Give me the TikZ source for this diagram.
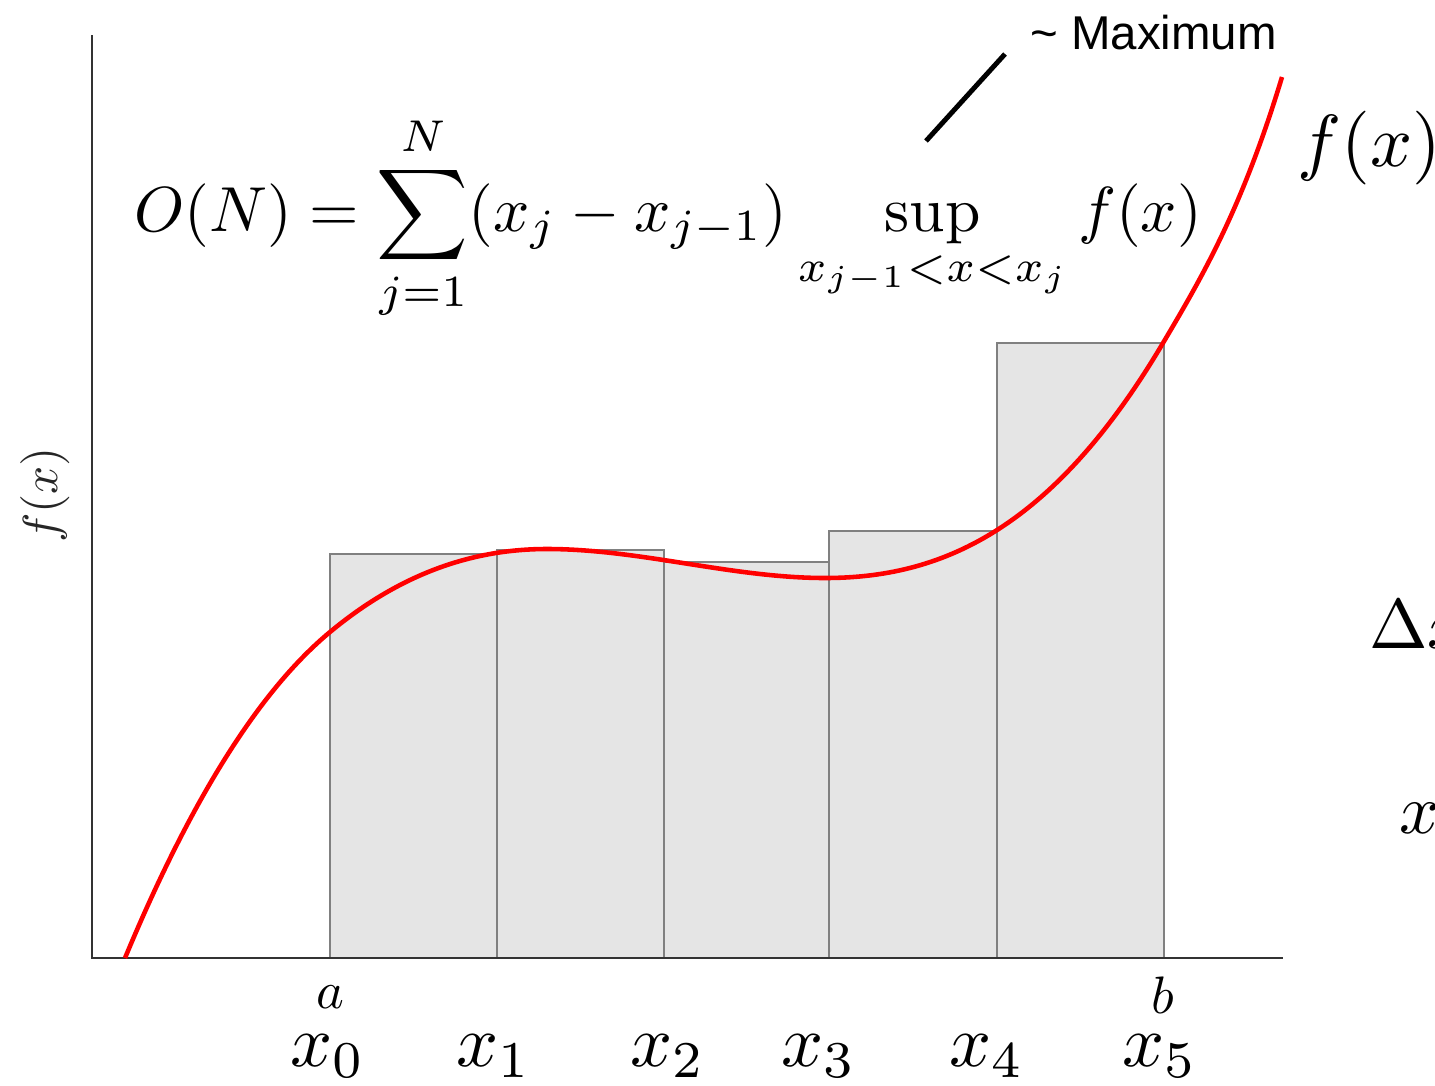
\documentclass[tikz,border=0pt]{standalone}
\usepackage{amsmath,amssymb}
\usepackage{fontspec}
\newfontfamily\notefont{Liberation Sans}
\usetikzlibrary{calc}

\tikzset{
    axis/.style={line width=1.6pt, draw=black!80},
    bin/.style={draw=black!50, fill=black!10, line width=0.8pt},
    curve/.style={red, line width=2.6pt},
    ticklabel/.style={scale=4.2, inner sep=0pt},
}

\begin{document}
\begin{tikzpicture}[x=0.02cm, y=-0.02cm]
    \useasboundingbox (0,0) rectangle (1435,1085);

    % bins of the upper sum
    \foreach \l/\r/\t in {330/497/554, 497/664/550, 664/829/562, 829/997/531, 997/1164/343}
        \draw[bin] (\l,958) rectangle (\r,\t);

    % axes
    \draw[axis] (92,35) -- (92,958) -- (1283,958);
    \node[rotate=90, scale=2.8, text=black!85] (ylab) at (45,495) {$f(x)$};

    % the function
    \draw[curve] (125,958) .. controls (193.3,794) and (261.7,688.7) .. (330,632)
        .. controls (402.3,572) and (474.7,549) .. (547,549)
        .. controls (639.7,549) and (732.3,578) .. (825,578)
        .. controls (937.7,578) and (1050.3,533.5) .. (1163,343)
        .. controls (1202.7,276) and (1242.3,208) .. (1282,77);
    \node[scale=4.2, anchor=west, inner sep=0pt] (flab) at (1296,148) {$f(x)$};

    % partition labels
    \node[scale=3] (a) at (330,997) {$a$};
    \node[scale=3] (b) at (1163,995) {$b$};
    \foreach \i/\x in {0/328, 1/494, 2/668, 3/819, 4/987, 5/1160}
        \node[ticklabel] (x\i) at (\x,1056) {$x_{\i}$};

    % upper sum formula
    \node[scale=3.62, anchor=west, inner sep=0pt] (osum) at (133,218)
        {$\displaystyle O(N)=\sum_{j=1}^{N}(x_j-x_{j-1})\sup_{x_{j-1}<x<x_j}f(x)$};

    % note on the sup
    \coordinate (supend) at (926,141);
    \node[anchor=west, inner sep=0pt, font=\notefont\fontsize{27}{31}\selectfont] (maxnote) at (1030,33) {\textasciitilde{} Maximum};
    \draw[line width=2.8pt] (supend) -- (1005,54);

    % labels cut by the right edge
    \node[scale=4, anchor=base west, inner sep=0pt] (dx) at (1368,648) {$\Delta x$};
    \node[scale=4, anchor=base west, inner sep=0pt] (xr) at (1398,833) {$x$};
\end{tikzpicture}
\end{document}
